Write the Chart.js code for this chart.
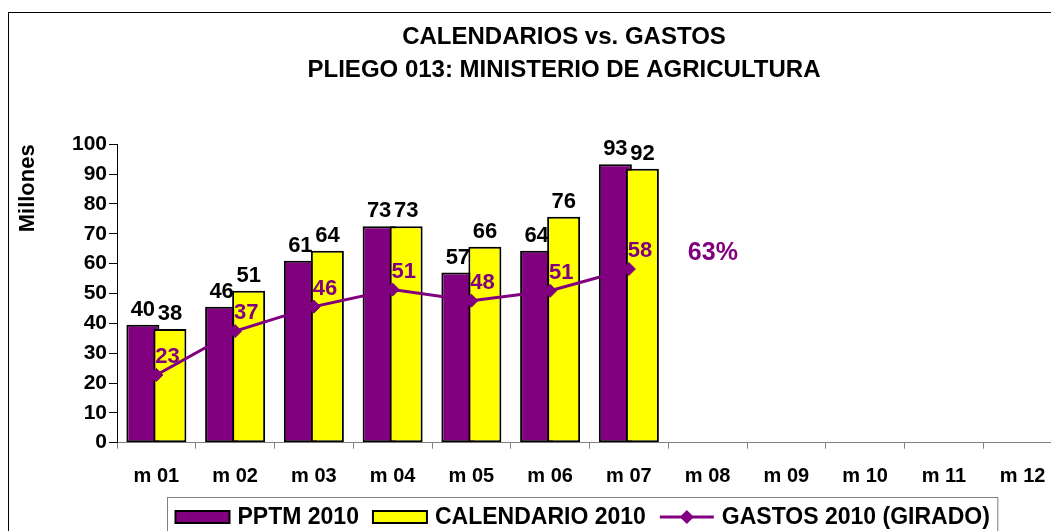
<!DOCTYPE html>
<html><head><meta charset="utf-8">
<script src="https://cdn.jsdelivr.net/npm/chart.js@4.4.1/dist/chart.umd.min.js"></script>
<style>
html,body{margin:0;padding:0;background:#fff;}
#wrap{position:relative;width:1051px;height:531px;overflow:hidden;background:#fff;}
#frame{position:absolute;left:8px;top:12px;width:1100px;height:600px;border-left:1px solid #000;border-top:1px solid #000;pointer-events:none;}
canvas{position:absolute;left:0;top:0;}
</style></head><body>
<div id="wrap"><canvas id="c" width="1128" height="531"></canvas><div id="frame"></div></div>
<script>
// ---- data ----
const months = ['m 01','m 02','m 03','m 04','m 05','m 06','m 07','m 08','m 09','m 10','m 11','m 12'];
const pptm2010 = [39.5, 45.6, 61.0, 72.5, 57.0, 64.3, 93.3];
const calendario2010 = [38.1, 50.9, 64.3, 72.5, 65.7, 75.7, 91.8];
const gastos2010 = [22.7, 37.4, 45.6, 51.3, 47.6, 50.9, 58.2];
const seriesLabels = ['PPTM 2010', 'CALENDARIO 2010', 'GASTOS 2010 (GIRADO)'];
const titleLines = ['CALENDARIOS vs. GASTOS', 'PLIEGO 013: MINISTERIO DE AGRICULTURA'];
const yTitle = 'Millones';

const FONT = '"Liberation Sans", Arial, Helvetica, sans-serif';
const PURPLE = '#800080';
const YELLOW = '#FFFF00';

// draw yellow bars on top of purple bars (Excel-style overlap)
const yellowOnTop = {
  id: 'yellowOnTop',
  beforeDatasetDraw(chart, args) {
    if (args.index === 1) return false;
  },
  afterDatasetDraw(chart, args) {
    if (args.index === 0) {
      chart.getDatasetMeta(1).controller.draw();
    }
  }
};

const valueLabels = {
  id: 'valueLabels',
  afterDatasetsDraw(chart) {
    const ctx = chart.ctx;
    ctx.save();
    ctx.textAlign = 'center';
    ctx.textBaseline = 'alphabetic';
    ctx.font = 'bold 22px ' + FONT;
    ctx.fillStyle = '#000';
    [0, 1].forEach(di => {
      const data = chart.data.datasets[di].data;
      chart.getDatasetMeta(di).data.forEach((el, i) => {
        if (data[i] == null) return;
        ctx.fillText(String(Math.round(data[i])), el.x, el.y - 9);
      });
    });
    const lineData = chart.data.datasets[2].data;
    const lm = chart.getDatasetMeta(2);
    ctx.fillStyle = PURPLE;
    let last = -1;
    lm.data.forEach((pt, i) => {
      if (lineData[i] == null) return;
      last = i;
      ctx.fillText(String(Math.round(lineData[i])), pt.x + 11, pt.y - 20 + 8);
    });
    if (last >= 0) {
      const cal = chart.data.datasets[1].data[last];
      const pct = Math.round(lineData[last] / cal * 100) + '%';
      const pt = lm.data[last];
      ctx.font = 'bold 25px ' + FONT;
      ctx.fillText(pct, pt.x + 84, pt.y - 18 + 9);
    }
    ctx.restore();
  }
};

const boxLegend = {
  id: 'boxLegend',
  afterDraw(chart) {
    const ctx = chart.ctx, ca = chart.chartArea;
    ctx.save();
    ctx.font = 'bold 23px ' + FONT;
    const sym = 54, gapT = 8, gapI = 14, pad = 8;
    const items = chart.data.datasets.map(ds => ({ds, w: ctx.measureText(ds.label).width}));
    const total = pad * 2 + items.reduce((s, it) => s + sym + gapT + it.w, 0) + gapI * (items.length - 1);
    const left = Math.round(ca.left + 50) + 0.5;
    const top = Math.round(ca.bottom + 54) + 0.5;
    ctx.strokeStyle = '#808080';
    ctx.lineWidth = 1;
    ctx.strokeRect(left, top, total, 100);
    let x = left + pad;
    const cy = top + 19.5;
    items.forEach(it => {
      const ds = it.ds;
      if (ds.type === 'line') {
        ctx.strokeStyle = ds.borderColor;
        ctx.lineWidth = 3;
        ctx.beginPath();
        ctx.moveTo(x, cy); ctx.lineTo(x + sym, cy);
        ctx.stroke();
        ctx.fillStyle = ds.pointBackgroundColor;
        const cx = x + sym / 2, r = 7;
        ctx.beginPath();
        ctx.moveTo(cx, cy - r); ctx.lineTo(cx + r, cy); ctx.lineTo(cx, cy + r); ctx.lineTo(cx - r, cy);
        ctx.closePath(); ctx.fill();
      } else {
        ctx.fillStyle = ds.backgroundColor;
        ctx.fillRect(x, cy - 6, sym, 12);
        ctx.strokeStyle = '#000';
        ctx.lineWidth = 2;
        ctx.strokeRect(x, cy - 6, sym, 12);
      }
      x += sym + gapT;
      ctx.fillStyle = '#000';
      ctx.textBaseline = 'middle';
      ctx.textAlign = 'left';
      ctx.fillText(ds.label, x, cy + 1);
      x += it.w + gapI;
    });
    ctx.restore();
  }
};

new Chart(document.getElementById('c'), {
  type: 'bar',
  data: {
    labels: months,
    datasets: [
      { type: 'bar', label: seriesLabels[0], data: pptm2010, backgroundColor: PURPLE, borderColor: '#000', borderWidth: 2, borderSkipped: false, order: 1, categoryPercentage: 0.686, barPercentage: 1.222 },
      { type: 'bar', label: seriesLabels[1], data: calendario2010, backgroundColor: YELLOW, borderColor: '#000', borderWidth: 2, borderSkipped: false, order: 2, categoryPercentage: 0.686, barPercentage: 1.222 },
      { type: 'line', label: seriesLabels[2], data: gastos2010, borderColor: PURPLE, borderWidth: 3, pointStyle: 'rectRot', pointRadius: 6.5, pointBackgroundColor: PURPLE, pointBorderColor: PURPLE, pointBorderWidth: 1, tension: 0, order: 0, fill: false }
    ]
  },
  options: {
    responsive: false,
    animation: false,
    layout: { padding: { top: 0, left: 0, right: 0, bottom: 48.3 } },
    plugins: {
      legend: { display: false },
      tooltip: { enabled: false },
      title: {
        display: true, text: titleLines, color: '#000',
        font: { family: FONT, size: 24, weight: 'bold', lineHeight: 1.375 },
        padding: { top: 20.5, bottom: 57.8 }
      }
    },
    scales: {
      x: {
        offset: true,
        grid: { display: true, drawOnChartArea: false, drawTicks: true, tickLength: 6, color: '#808080', offset: true },
        border: { display: true, color: '#808080', width: 1 },
        ticks: { font: { family: FONT, size: 20, weight: 'bold' }, color: '#000', padding: 16, maxRotation: 0, autoSkip: false },
        afterFit(s) { s.height = 40; }
      },
      y: {
        position: 'left', min: 0, max: 100,
        ticks: { stepSize: 10, font: { family: FONT, size: 21, weight: 'bold' }, color: '#000', padding: 2 },
        grid: { drawOnChartArea: false, drawTicks: true, tickLength: 8, color: '#000' },
        border: { display: true, color: '#000', width: 1 },
        title: { display: true, text: yTitle, align: 'end', color: '#000', font: { family: FONT, size: 22, weight: 'bold' }, padding: { top: 15, bottom: 0 } },
        afterFit(s) { s.width = 117; }
      },
      y2: {
        position: 'right', display: true,
        grid: { display: false, drawTicks: false },
        ticks: { display: false },
        border: { display: false },
        afterFit(s) { s.width = 66; }
      }
    }
  },
  plugins: [yellowOnTop, valueLabels, boxLegend]
});
</script>
</body></html>
